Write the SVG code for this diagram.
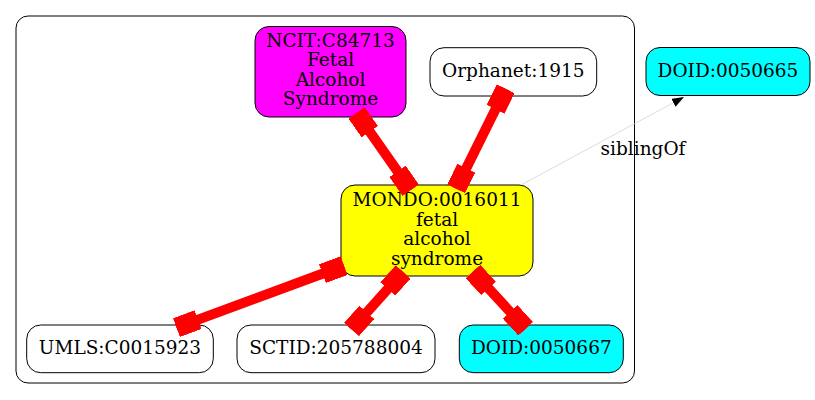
<svg xmlns="http://www.w3.org/2000/svg" width="815" height="400" viewBox="0 0 815 400">
<style>
  .n { stroke: #000; stroke-width: 1; }
  .t { font-family: "DejaVu Serif", "Liberation Serif", serif; font-size: 18.5px; text-anchor: middle; fill: #000; }
  .e { stroke: #ff0000; stroke-width: 10; fill: none; marker-start: url(#box); marker-end: url(#box); }
  .s { stroke: #d3d3d3; stroke-width: 0.8; fill: none; marker-end: url(#arr); }
</style>
<defs>
  <marker id="box" markerUnits="userSpaceOnUse" viewBox="0 0 23 20" markerWidth="23" markerHeight="20" refX="23" refY="10" orient="auto-start-reverse">
    <rect x="0" y="0" width="23" height="20" fill="#ff0000"/>
  </marker>
  <marker id="arr" markerUnits="userSpaceOnUse" viewBox="0 0 12 9" markerWidth="12" markerHeight="9" refX="12" refY="4.5" orient="auto">
    <path d="M0,0 L12,4.5 L0,9 z" fill="#000"/>
  </marker>
</defs>
<rect width="815" height="400" fill="#fff"/>
<g id="cluster">
  <rect x="16" y="16" width="618.5" height="367" rx="12" ry="12" fill="none" stroke="#000" stroke-width="1"/>
</g>
<g id="ncit">
  <rect class="n" x="255" y="26.5" width="151" height="90.5" rx="14" fill="#ff00ff"/>
  <text class="t" x="330.5" y="46.7">NCIT:C84713</text>
  <text class="t" x="330.5" y="66.2">Fetal</text>
  <text class="t" x="330.5" y="85.7">Alcohol</text>
  <text class="t" x="330.5" y="105.2">Syndrome</text>
</g>
<g id="orphanet">
  <rect class="n" x="430" y="47.7" width="166.7" height="48.3" rx="14" fill="#fff"/>
  <text class="t" x="513.3" y="77.3">Orphanet:1915</text>
</g>
<g id="doid665">
  <rect class="n" x="646" y="47.5" width="164" height="48" rx="14" fill="#00ffff"/>
  <text class="t" x="728" y="77">DOID:0050665</text>
</g>
<g id="mondo">
  <rect class="n" x="341" y="185" width="192" height="91" rx="14" fill="#ffff00"/>
  <text class="t" x="437" y="206">MONDO:0016011</text>
  <text class="t" x="437" y="225.5">fetal</text>
  <text class="t" x="437" y="245">alcohol</text>
  <text class="t" x="437" y="264.5">syndrome</text>
</g>
<g id="umls">
  <rect class="n" x="26.7" y="325" width="186.6" height="47.7" rx="14" fill="#fff"/>
  <text class="t" x="120" y="354">UMLS:C0015923</text>
</g>
<g id="sctid">
  <rect class="n" x="237" y="325" width="198" height="47.7" rx="14" fill="#fff"/>
  <text class="t" x="336" y="354">SCTID:205788004</text>
</g>
<g id="doid667">
  <rect class="n" x="459.3" y="325" width="164" height="47.7" rx="14" fill="#00ffff"/>
  <text class="t" x="541.3" y="354">DOID:0050667</text>
</g>
<g id="connectors">
  <path class="e" d="M356.6,112.9 L410.7,190.2"/>
  <path class="e" d="M505.7,88.7 L456.1,188.8"/>
  <path class="e" d="M176.5,327.6 L344,265.7"/>
  <path class="e" d="M403.1,271.9 L351.5,329.5"/>
  <path class="e" d="M473,271.5 L525.7,328.8"/>
  <path class="s" d="M521,185 L684,97"/>
  <text class="t" x="643" y="155">siblingOf</text>
</g>
</svg>
